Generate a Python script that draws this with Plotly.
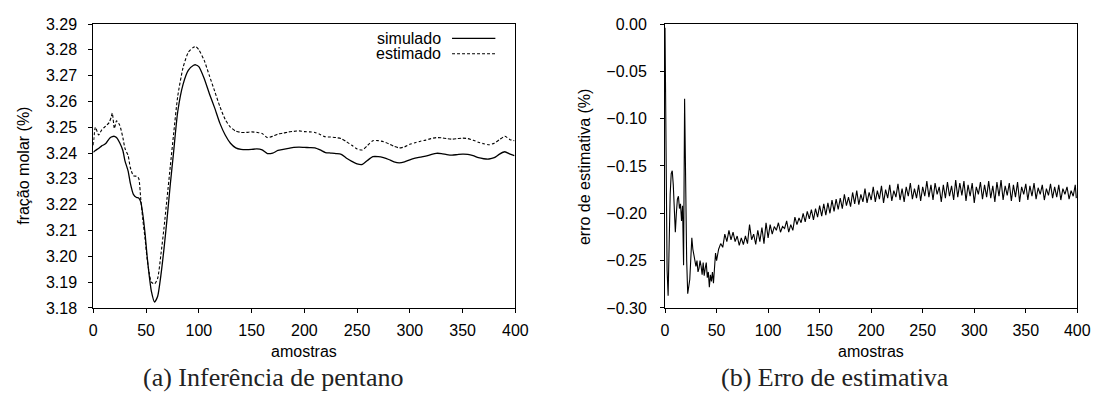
import plotly.graph_objects as go

# ---------------- (a) pentane inference ----------------
amostras_a = [0, 2, 5, 8, 10, 12, 15, 17, 18, 20, 22, 25, 28, 30, 33, 35, 38, 41, 43, 45,
              47, 49, 51, 53, 55, 58, 61, 64, 67, 70, 73, 76, 80, 85, 90, 95, 97, 100, 105, 110,
              115, 120, 125, 130, 135, 140, 145, 150, 155, 160, 165, 170, 175, 180, 185, 190, 195, 200, 205, 210,
              215, 220, 225, 230, 235, 240, 245, 250, 255, 260, 265, 270, 275, 280, 285, 290, 295, 300, 305, 310,
              315, 320, 325, 330, 335, 340, 345, 350, 355, 360, 365, 370, 375, 380, 385, 390, 395, 399]

simulado = [3.2403, 3.2410, 3.2418, 3.2428, 3.2432, 3.2438, 3.2455, 3.2462, 3.2464, 3.2465,
            3.2460, 3.2440, 3.2410, 3.2370, 3.2330, 3.2285, 3.2240, 3.2228, 3.2226, 3.2210,
            3.2160, 3.2090, 3.2000, 3.1925, 3.1865, 3.1823, 3.1845, 3.1925, 3.2030, 3.2150,
            3.2280, 3.2400, 3.2560, 3.2665, 3.2720, 3.2740, 3.2742, 3.2735, 3.2690, 3.2630,
            3.2575, 3.2515, 3.2470, 3.2438, 3.2420, 3.2414, 3.2413, 3.2414, 3.2416, 3.2412,
            3.2398, 3.2400, 3.2410, 3.2414, 3.2418, 3.2422, 3.2423, 3.2422, 3.2421, 3.2420,
            3.2412, 3.2402, 3.2400, 3.2398, 3.2395, 3.2380, 3.2368, 3.2358, 3.2356, 3.2372,
            3.2386, 3.2386, 3.2382, 3.2375, 3.2366, 3.2362, 3.2366, 3.2374, 3.2380, 3.2384,
            3.2388, 3.2394, 3.2399, 3.2398, 3.2394, 3.2392, 3.2394, 3.2396, 3.2395, 3.2390,
            3.2382, 3.2378, 3.2377, 3.2382, 3.2396, 3.2405, 3.2396, 3.2390]

estimado = [3.2430, 3.2500, 3.2470, 3.2490, 3.2498, 3.2505, 3.2518, 3.2540, 3.2555, 3.2495,
            3.2525, 3.2508, 3.2460, 3.2418, 3.2390, 3.2345, 3.2312, 3.2310, 3.2302, 3.2220,
            3.2140, 3.2070, 3.1990, 3.1935, 3.1900, 3.1893, 3.1915, 3.2005, 3.2110, 3.2230,
            3.2350, 3.2470, 3.2620, 3.2730, 3.2790, 3.2810, 3.2813, 3.2800, 3.2760, 3.2700,
            3.2640, 3.2580, 3.2530, 3.2500, 3.2485, 3.2480, 3.2480, 3.2482, 3.2480, 3.2476,
            3.2460, 3.2465, 3.2474, 3.2477, 3.2482, 3.2484, 3.2486, 3.2483, 3.2482, 3.2480,
            3.2472, 3.2463, 3.2462, 3.2460, 3.2456, 3.2444, 3.2430, 3.2416, 3.2412, 3.2430,
            3.2448, 3.2448, 3.2444, 3.2436, 3.2426, 3.2420, 3.2424, 3.2434, 3.2440, 3.2446,
            3.2450, 3.2456, 3.2460, 3.2459, 3.2456, 3.2454, 3.2456, 3.2458, 3.2456, 3.2450,
            3.2442, 3.2436, 3.2432, 3.2438, 3.2452, 3.2465, 3.2452, 3.2448]

# ---------------- (b) estimation error ----------------
amostras_b = list(range(0, 51)) + list(range(52, 399, 2)) + [399]

erro = [
    # 0-50, every sample
    -0.004, -0.150, -0.260, -0.287, -0.230, -0.180, -0.158, -0.155, -0.170, -0.200,
    -0.220, -0.200, -0.185, -0.182, -0.195, -0.190, -0.208, -0.192, -0.255, -0.079,
    -0.170, -0.250, -0.285, -0.278, -0.270, -0.248, -0.226, -0.238, -0.245, -0.252,
    -0.256, -0.250, -0.262, -0.258, -0.250, -0.256, -0.265, -0.252, -0.266, -0.258,
    -0.252, -0.268, -0.262, -0.278, -0.265, -0.272, -0.262, -0.274, -0.255, -0.242,
    -0.250,
    # 52-398, every second sample
    -0.238, -0.232, -0.236, -0.222, -0.230, -0.218, -0.228, -0.220, -0.230, -0.224,
    -0.234, -0.226, -0.233, -0.224, -0.232, -0.212, -0.228, -0.222, -0.233, -0.218,
    -0.230, -0.215, -0.232, -0.210, -0.226, -0.212, -0.222, -0.214, -0.218, -0.210,
    -0.220, -0.214, -0.216, -0.208, -0.220, -0.212, -0.218, -0.204, -0.212, -0.205,
    -0.210, -0.200, -0.209, -0.198, -0.206, -0.196, -0.207, -0.195, -0.204, -0.192,
    -0.203, -0.190, -0.202, -0.189, -0.200, -0.186, -0.198, -0.185, -0.196, -0.184,
    -0.195, -0.180, -0.192, -0.183, -0.193, -0.178, -0.190, -0.176, -0.191, -0.180,
    -0.188, -0.174, -0.189, -0.178, -0.186, -0.172, -0.188, -0.176, -0.185, -0.171,
    -0.189, -0.175, -0.184, -0.170, -0.187, -0.176, -0.183, -0.169, -0.186, -0.174,
    -0.188, -0.172, -0.182, -0.168, -0.185, -0.174, -0.184, -0.170, -0.187, -0.172,
    -0.182, -0.166, -0.183, -0.170, -0.186, -0.168, -0.180, -0.172, -0.188, -0.170,
    -0.184, -0.167, -0.182, -0.171, -0.186, -0.165, -0.183, -0.168, -0.181, -0.166,
    -0.187, -0.170, -0.182, -0.168, -0.189, -0.172, -0.180, -0.167, -0.185, -0.170,
    -0.183, -0.166, -0.184, -0.171, -0.188, -0.167, -0.182, -0.165, -0.186, -0.171,
    -0.181, -0.168, -0.187, -0.170, -0.183, -0.167, -0.188, -0.172, -0.180, -0.169,
    -0.186, -0.171, -0.182, -0.168, -0.185, -0.173, -0.180, -0.170, -0.186, -0.174,
    -0.181, -0.169, -0.184, -0.172, -0.183, -0.170, -0.186, -0.174, -0.180, -0.172,
    -0.185, -0.176, -0.182, -0.170,
    # 399
    -0.184,
]

ticks_x = [0, 50, 100, 150, 200, 250, 300, 350, 400]
ticks_a = [3.18, 3.19, 3.20, 3.21, 3.22, 3.23, 3.24, 3.25, 3.26, 3.27, 3.28, 3.29]
ticks_b = [-0.30, -0.25, -0.20, -0.15, -0.10, -0.05, 0.00]

SANS = "Liberation Sans, Arial, Helvetica, sans-serif"
SERIF = "Liberation Serif, Times New Roman, serif"

fig = go.Figure()
fig.add_trace(go.Scatter(x=amostras_a, y=simulado, mode="lines", name="simulado",
                         line=dict(color="black", width=1.3, shape="spline", smoothing=0.6),
                         xaxis="x", yaxis="y"))
fig.add_trace(go.Scatter(x=amostras_a, y=estimado, mode="lines", name="estimado",
                         line=dict(color="black", width=1.1, dash="3px,2px", shape="spline", smoothing=0.6),
                         xaxis="x", yaxis="y"))
fig.add_trace(go.Scatter(x=amostras_b, y=erro, mode="lines", name="erro",
                         line=dict(color="black", width=1.1),
                         xaxis="x2", yaxis="y2"))

W, H = 1111, 407
top, bottom = 1 - 16.7 / H, 1 - 313 / H
axis_common = dict(showline=True, linecolor="black", linewidth=1, mirror=True,
                   ticks="outside", ticklen=4, tickcolor="black", tickwidth=1,
                   showgrid=False, zeroline=False,
                   tickfont=dict(family=SANS, size=16, color="black"))

fig.update_layout(
    width=W, height=H,
    margin=dict(l=0, r=0, t=0, b=0),
    paper_bgcolor="white", plot_bgcolor="white",
    showlegend=False,
    xaxis=dict(domain=[90.7 / W, 519.3 / W], range=[0, 400], tickvals=ticks_x,
               anchor="y", ticklabelstandoff=4, **axis_common),
    yaxis=dict(domain=[bottom, top], range=[3.18, 3.29], tickvals=ticks_a,
               tickformat=".2f", anchor="x", ticklabelstandoff=8, **axis_common),
    xaxis2=dict(domain=[671.3 / W, 1090 / W], range=[0, 400], tickvals=ticks_x,
                anchor="y2", ticklabelstandoff=4, **axis_common),
    yaxis2=dict(domain=[bottom, top], range=[-0.30, 0.0], tickvals=ticks_b,
                tickformat=".2f", anchor="x2", ticklabelstandoff=10, **axis_common),
)


def label(text, x, y, size=16, family=SANS, color="black", xanchor="center", angle=0):
    return dict(text=text, x=x / W, y=1 - y / H, xref="paper", yref="paper",
                xanchor=xanchor, yanchor="middle", textangle=angle, showarrow=False,
                font=dict(family=family, size=size, color=color))


ann = [
    # axis titles
    label("amostras", 305, 358),
    label("amostras", 880, 358),
    label("fração molar (%)", 19, 165, angle=-90),
    label("erro de estimativa (%)", 589, 165, angle=-90),
    # captions
    label("(a) Inferência de pentano", 274, 386, size=26, family=SERIF, color="#222"),
    label("(b) Erro de estimativa", 844, 386, size=26, family=SERIF, color="#222"),
    # legend labels (text to the left of the line sample)
    label("simulado", 446, 31.7, xanchor="right"),
    label("estimado", 446, 47.7, xanchor="right"),
]
fig.update_layout(annotations=ann)

fig.add_shape(type="line", xref="paper", yref="paper", x0=455 / W, x1=499 / W,
              y0=1 - 31.7 / H, y1=1 - 31.7 / H, line=dict(color="black", width=1.3))
fig.add_shape(type="line", xref="paper", yref="paper", x0=455 / W, x1=499 / W,
              y0=1 - 47.7 / H, y1=1 - 47.7 / H, line=dict(color="black", width=1.1, dash="3px,2px"))

fig.write_html("out.html")
